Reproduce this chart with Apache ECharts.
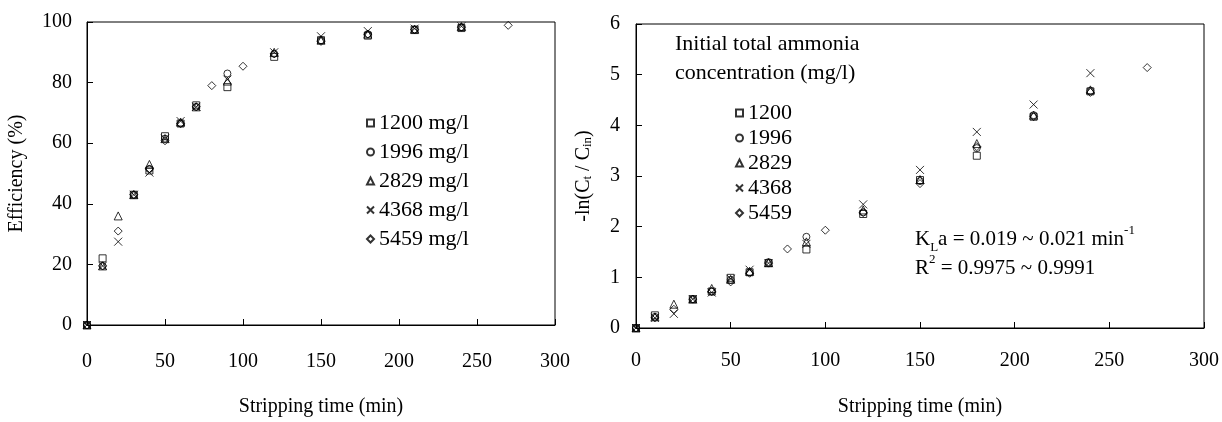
<!DOCTYPE html>
<html><head><meta charset="utf-8">
<script src="https://cdn.jsdelivr.net/npm/echarts@6/dist/echarts.min.js"></script>
<style>html,body{margin:0;padding:0;background:#fff}#c{width:1222px;height:422px}</style>
</head><body><div id="c"></div>
<script>
// ---- data ----
const times = [0,10,20,30,40,50,60,70,80,90,100,120,150,180,210,240,270];
const concLabels = ['1200','1996','2829','4368','5459'];
const eff1200 = [0,22,null,43,51,62.3,66.5,72.5,null,78.5,null,88.5,94,95.5,97.5,98,null];
const eff1996 = [0,19.5,null,43,51.5,61.5,66.5,72,null,83,null,89.5,94,96,97.5,98.3,null];
const eff2829 = [0,19.5,36,43,53,61.5,67,72,null,80.5,null,90,94,96,97.5,98.5,null];
const eff4368 = [0,19.5,27.5,43,50.3,61.5,67.3,72,null,81,null,90,95.3,97,97.8,98.6,null];
const eff5459 = [0,19.5,31,43,51.5,60.8,66.5,72,79,null,85.4,89.5,93.6,96,97.5,98.3,98.9];
const ln1200 = [0,0.25,null,0.57,0.72,0.99,1.1,1.28,null,1.55,null,2.25,2.92,3.4,4.17,4.67,null];
const ln1996 = [0,0.22,null,0.57,0.72,0.95,1.1,1.3,null,1.8,null,2.28,2.9,3.55,4.2,4.68,null];
const ln2829 = [0,0.22,0.47,0.57,0.78,0.96,1.12,1.29,null,1.7,null,2.33,2.93,3.64,4.2,4.7,null];
const ln4368 = [0,0.2,0.28,0.57,0.7,0.97,1.15,1.28,null,1.66,null,2.44,3.12,3.87,4.41,5.03,null];
const ln5459 = [0,0.2,0.37,0.57,0.72,0.91,1.08,1.28,1.56,null,1.93,2.28,2.85,3.58,4.17,4.65,5.14];

const effSets = [eff1200,eff1996,eff2829,eff4368,eff5459];
const lnSets = [ln1200,ln1996,ln2829,ln4368,ln5459];
const symbols = ['rect','circle','triangle','path://M0,0L10,10M10,0L0,10','diamond'];
const sizes = [7,7,8,8,8];
const FONT = 'Liberation Serif';

function pts(arr){ const out=[]; times.forEach((t,i)=>{ if(arr[i]!==null) out.push([t,arr[i]]); }); return out; }

const series = [];
effSets.forEach((a,i)=>series.push({
  name: concLabels[i]+' mg/l', type:'scatter', xAxisIndex:0, yAxisIndex:0,
  symbol: symbols[i], symbolSize: sizes[i], data: pts(a),
  itemStyle:{color:'rgba(255,255,255,0)', borderColor:'#000', borderWidth:1}
}));
lnSets.forEach((a,i)=>series.push({
  name: concLabels[i], type:'scatter', xAxisIndex:1, yAxisIndex:1,
  symbol: symbols[i], symbolSize: sizes[i], data: pts(a),
  itemStyle:{color:'rgba(255,255,255,0)', borderColor:'#000', borderWidth:1}
}));

const axisCommon = {
  axisLine:{show:true, lineStyle:{color:'#000', width:1}},
  axisTick:{show:true, inside:true, length:6, lineStyle:{color:'#000'}},
  splitLine:{show:false},
  axisLabel:{color:'#000', fontFamily:FONT, fontSize:20},
  nameTextStyle:{color:'#000', fontFamily:FONT, fontSize:20}
};
const legIcon = (i)=>symbols[i];

const richText = {
  n:{fontSize:21, fontFamily:FONT, color:'#000', lineHeight:30},
  sub:{fontSize:13, fontFamily:FONT, color:'#000', lineHeight:13, verticalAlign:'bottom'},
  sup:{fontSize:13, fontFamily:FONT, color:'#000', lineHeight:13, verticalAlign:'top'}
};

const option = {
  animation:false,
  backgroundColor:'#fff',
  grid:[
    {left:87, top:22, width:468, height:309, show:true, borderColor:'#000', borderWidth:1, containLabel:false},
    {left:636, top:24, width:569, height:314, show:true, borderColor:'#000', borderWidth:1, containLabel:false}
  ],
  xAxis:[
    Object.assign({}, axisCommon, {gridIndex:0, type:'value', min:0, max:300, interval:50,
      name:'Stripping time (min)', nameLocation:'middle', nameGap:72,
      axisLabel:Object.assign({}, axisCommon.axisLabel, {margin:27})}),
    Object.assign({}, axisCommon, {gridIndex:1, type:'value', min:0, max:300, interval:50,
      name:'Stripping time (min)', nameLocation:'middle', nameGap:69,
      axisLabel:Object.assign({}, axisCommon.axisLabel, {margin:23})})
  ],
  yAxis:[
    Object.assign({}, axisCommon, {gridIndex:0, type:'value', min:0, max:100, interval:20,
      name:'Efficiency (%)', nameLocation:'middle', nameGap:60,
      axisLabel:Object.assign({}, axisCommon.axisLabel, {margin:15})}),
    Object.assign({}, axisCommon, {gridIndex:1, type:'value', min:0, max:6, interval:1,
      name:'-ln(C{sub|t} / C{sub|in})', nameLocation:'middle', nameGap:42,
      nameTextStyle:{color:'#000', fontFamily:FONT, fontSize:20,
        rich:{sub:{fontFamily:FONT, fontSize:13, color:'#000', verticalAlign:'bottom', padding:[5,0,0,0]}}},
      axisLabel:Object.assign({}, axisCommon.axisLabel, {margin:16})})
  ],
  legend:[
    {data:concLabels.map(c=>c+' mg/l'), orient:'vertical', left:361, top:107, itemWidth:7, itemHeight:7,
      itemGap:7, textStyle:{fontFamily:FONT, fontSize:22, color:'#000'}, selectedMode:false},
    {data:concLabels.slice(), orient:'vertical', left:730, top:97, itemWidth:7, itemHeight:7,
      itemGap:3, textStyle:{fontFamily:FONT, fontSize:22, color:'#000'}, selectedMode:false}
  ],
  graphic:[
    {type:'text', left:675, top:30, style:{text:'Initial total ammonia\nconcentration (mg/l)', font:'22px '+FONT, fill:'#000', lineHeight:29}},
    {type:'text', left:915, top:224, style:{
      text:'{n|K}{sub|L}{n|a = 0.019 ~ 0.021 min}{sup|-1}', rich:richText}},
    {type:'text', left:915, top:253, style:{
      text:'{n|R}{sup|2}{n| = 0.9975 ~ 0.9991}', rich:richText}}
  ],
  series: series
};
const chart = echarts.init(document.getElementById('c'), null, {renderer:'canvas'});
chart.setOption(option);
</script></body></html>
